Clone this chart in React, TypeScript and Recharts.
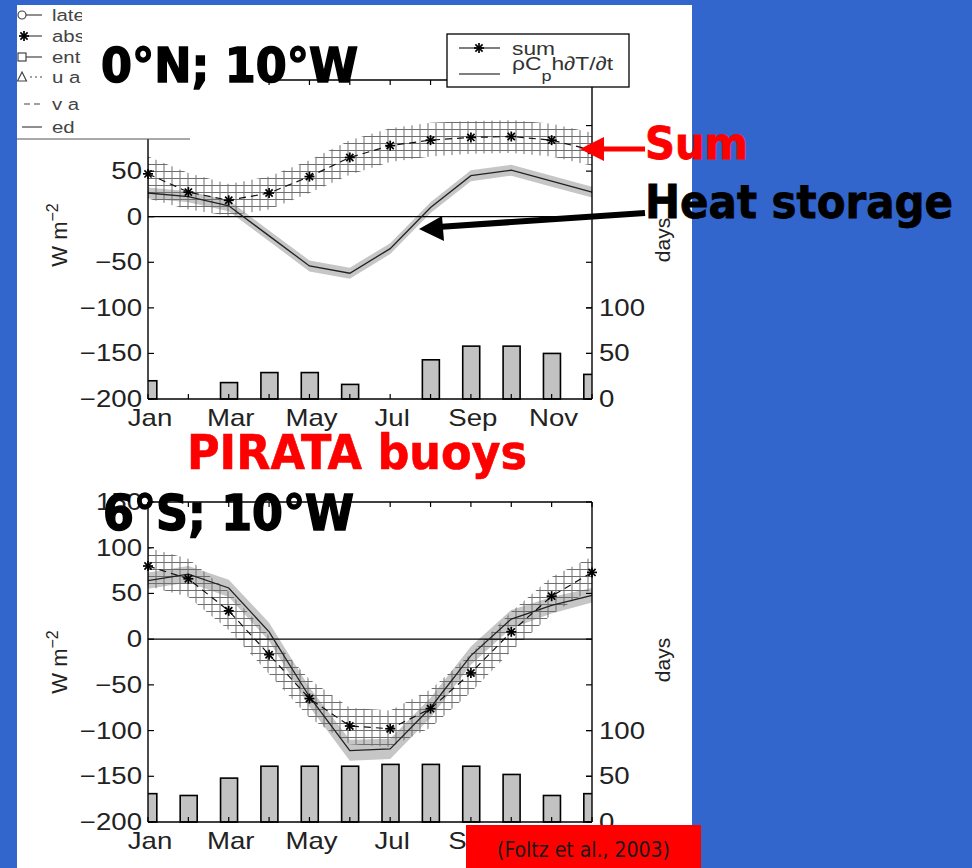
import { ComposedChart, Bar, Line, Area, XAxis, YAxis, ReferenceLine } from "recharts"

// months on the x axis (index = position)
const months = ["Jan", "Feb", "Mar", "Apr", "May", "Jun", "Jul", "Aug", "Sep", "Oct", "Nov", "Dec"]
const monthTicks = [0, 1, 2, 3, 4, 5, 6, 7, 8, 9, 10, 11]
const monthLabels = ["Jan", "", "Mar", "", "May", "", "Jul", "", "Sep", "", "Nov", ""]
const wTicks = [-200, -150, -100, -50, 0, 50, 100, 150]
const dayTicks = [0, 50, 100]

// 0°N; 10°W
const sumN = [47, 27, 18, 26, 44, 65, 78, 84, 87, 88, 84, 73]
const sumNLow = [20, 8, 1, 8, 26, 46, 60, 66, 69, 70, 66, 56]
const sumNHigh = [66, 48, 36, 44, 62, 84, 97, 103, 105, 106, 102, 92]
const heatN = [26, 22, 12, -21, -54, -62, -35, 10, 45, 51, 39, 27]
const heatNLow = [20, 16, 6, -27, -60, -68, -41, 4, 39, 45, 33, 21]
const heatNHigh = [32, 28, 18, -15, -48, -56, -29, 16, 51, 57, 45, 33]
const daysN = [20, null, 18, 29, 29, 16, null, 43, 58, 58, 50, 27]

// 6°S; 10°W
const sumS = [80, 66, 31, -17, -65, -95, -98, -76, -37, 8, 47, 73]
const sumSLow = [58, 46, 10, -38, -86, -115, -118, -97, -58, -13, 27, 55]
const sumSHigh = [100, 88, 52, 4, -44, -75, -78, -55, -16, 30, 68, 90]
const heatS = [64, 71, 56, 8, -63, -122, -120, -75, -18, 22, 37, 48]
const heatSLow = [55, 62, 46, -2, -74, -133, -131, -86, -28, 12, 28, 40]
const heatSHigh = [73, 80, 65, 18, -53, -110, -109, -64, -8, 32, 46, 56]
const daysS = [31, 29, 48, 61, 61, 61, 63, 63, 61, 52, 29, 31]

const build = (sum, lo, hi, heat, hlo, hhi, days) =>
  months.map((m, i) => ({
    i,
    m,
    sum: sum[i],
    sumBand: [lo[i], hi[i]],
    heat: heat[i],
    heatBand: [hlo[i], hhi[i]],
    days: days[i],
  }))

const dataN = build(sumN, sumNLow, sumNHigh, heatN, heatNLow, heatNHigh, daysN)
const dataS = build(sumS, sumSLow, sumSHigh, heatS, heatSLow, heatSHigh, daysS)

const PLOT_W = 444
const LAB = "'Liberation Sans', Arial, sans-serif"
const BOLD = "'DejaVu Sans Condensed', 'DejaVu Sans', sans-serif"

function SText({ x, y, anchor = "start", size = 23, children, fill = "#222" }) {
  return (
    <text
      transform={`translate(${x},${y}) scale(1.2,1)`}
      textAnchor={anchor}
      fontSize={size}
      fontFamily={LAB}
      fill={fill}
    >
      {children}
    </text>
  )
}

// labels that sit under the slide's boxes are left out
function BottomTick(props) {
  const { x, y, payload, skip = [] } = props
  const label = skip.includes(payload.value) ? "" : monthLabels[payload.value]
  return (
    <g>
      <line x1={x} y1={y} x2={x} y2={y - 5} stroke="#000" strokeWidth={1.2} />
      {label ? <SText x={x + 2} y={y + 27} anchor="middle">{label}</SText> : null}
    </g>
  )
}

function TopTick(props) {
  const { x, y } = props
  return <line x1={x} y1={y} x2={x} y2={y + 5} stroke="#000" strokeWidth={1.2} />
}

function LeftTick(props) {
  const { x, y, payload, skip = [] } = props
  const txt = String(payload.value).replace("-", "\u2212")
  return (
    <g>
      <line x1={x} y1={y} x2={x + 6} y2={y} stroke="#000" strokeWidth={1.2} />
      <line x1={x + PLOT_W} y1={y} x2={x + PLOT_W - 6} y2={y} stroke="#000" strokeWidth={1.2} />
      {skip.includes(payload.value) ? null : <SText x={x - 6} y={y + 8} anchor="end">{txt}</SText>}
    </g>
  )
}

function RightTick(props) {
  const { x, y, payload } = props
  return (
    <g>
      <line x1={x} y1={y} x2={x - 6} y2={y} stroke="#000" strokeWidth={1.2} />
      <SText x={x + 7} y={y + 8}>{payload.value}</SText>
    </g>
  )
}

function Asterisk(props) {
  const { cx, cy } = props
  if (cx == null || cy == null) return null
  const r = 5
  const d = 3.6
  return (
    <g stroke="#000" strokeWidth={1.7}>
      <line x1={cx - r} y1={cy} x2={cx + r} y2={cy} />
      <line x1={cx} y1={cy - r} x2={cx} y2={cy + r} />
      <line x1={cx - d} y1={cy - d} x2={cx + d} y2={cy + d} />
      <line x1={cx - d} y1={cy + d} x2={cx + d} y2={cy - d} />
    </g>
  )
}

function BarShape(props) {
  const { x, y, width, height } = props
  if (!height || height < 0.5) return <g />
  return <rect x={x} y={y} width={width} height={height} fill="#c2c2c2" stroke="#000" strokeWidth={1.6} />
}

function Panel({ data, top, height, marginTop, marginBottom, hatchId, skipW, skipMonths }) {
  const axisLine = { stroke: "#000", strokeWidth: 1.4 }
  return (
    <div style={{ position: "absolute", left: 0, top }}>
      <ComposedChart
        width={972}
        height={height}
        data={data}
        margin={{ top: marginTop, left: 48, right: 300, bottom: marginBottom }}
      >
        <defs>
          <pattern id={hatchId} width={8} height={7} patternUnits="userSpaceOnUse">
            <path d="M0 3.5H8M4 0V7" stroke="#6e6e6e" strokeWidth={1} />
          </pattern>
        </defs>
        <XAxis
          xAxisId="bars"
          dataKey="i"
          type="number"
          domain={[0, 11]}
          ticks={monthTicks}
          interval={0}
          allowDataOverflow
          tick={<BottomTick skip={skipMonths} />}
          tickLine={false}
          tickSize={0}
          tickMargin={0}
          height={30}
          axisLine={axisLine}
        />
        <XAxis
          xAxisId="top"
          orientation="top"
          dataKey="i"
          type="number"
          domain={[0, 11]}
          ticks={monthTicks}
          interval={0}
          tick={<TopTick />}
          tickLine={false}
          tickSize={0}
          tickMargin={0}
          height={10}
          axisLine={axisLine}
        />
        <XAxis xAxisId="pts" dataKey="i" type="number" domain={[0, 11]} hide />
        <YAxis
          yAxisId="w"
          domain={[-200, 150]}
          ticks={wTicks}
          interval={0}
          tick={<LeftTick skip={skipW} />}
          tickLine={false}
          tickSize={0}
          tickMargin={0}
          width={100}
          axisLine={axisLine}
        />
        <YAxis
          yAxisId="days"
          orientation="right"
          domain={[0, 350]}
          ticks={dayTicks}
          interval={0}
          tick={<RightTick />}
          tickLine={false}
          tickSize={0}
          tickMargin={0}
          width={80}
          axisLine={axisLine}
        />
        <Bar
          xAxisId="bars"
          yAxisId="days"
          dataKey="days"
          barSize={17}
          shape={<BarShape />}
          isAnimationActive={false}
        />
        <Area
          xAxisId="pts"
          yAxisId="w"
          dataKey="heatBand"
          type="linear"
          fill="#c6c6c6"
          fillOpacity={1}
          stroke="none"
          isAnimationActive={false}
        />
        <Area
          xAxisId="pts"
          yAxisId="w"
          dataKey="sumBand"
          type="linear"
          fill={`url(#${hatchId})`}
          fillOpacity={1}
          stroke="none"
          isAnimationActive={false}
        />
        <ReferenceLine xAxisId="pts" yAxisId="w" y={0} stroke="#000" strokeWidth={1.3} />
        <Line
          xAxisId="pts"
          yAxisId="w"
          dataKey="heat"
          type="linear"
          stroke="#222"
          strokeWidth={1.3}
          dot={false}
          isAnimationActive={false}
        />
        <Line
          xAxisId="pts"
          yAxisId="w"
          dataKey="sum"
          type="linear"
          stroke="#111"
          strokeWidth={1.2}
          strokeDasharray="7 5"
          dot={<Asterisk />}
          isAnimationActive={false}
        />
      </ComposedChart>
    </div>
  )
}

function RotLabel({ x, y, children, size = 22 }) {
  return (
    <text
      transform={`rotate(-90 ${x} ${y})`}
      x={x}
      y={y}
      textAnchor="middle"
      fontSize={size}
      fontFamily={LAB}
      fill="#222"
    >
      {children}
    </text>
  )
}

// left legend of the original figure, cut off by the title box
const legendRows = [
  { y: 15, label: "late" },
  { y: 36, label: "abs" },
  { y: 57, label: "ent" },
  { y: 77, label: "u a" },
  { y: 104, label: "v a" },
  { y: 127, label: "ed" },
]

function Overlay() {
  return (
    <svg width={972} height={868} style={{ position: "absolute", left: 0, top: 0 }}>
      <defs>
        <clipPath id="legCut">
          <rect x={17} y={5} width={65} height={134} />
        </clipPath>
      </defs>
      <rect x={17} y={5} width={246} height={134} fill="#fff" />
      <g clipPath="url(#legCut)">
        {legendRows.map((r, k) => (
          <g key={r.label} stroke="#444" strokeWidth={1.2} fill="none">
            {k === 4 ? (
              <line x1={24} y1={r.y} x2={42} y2={r.y} strokeDasharray="6 4" />
            ) : (
              <line x1={k === 3 ? 30 : 22} y1={r.y} x2={42} y2={r.y} strokeDasharray={k === 3 ? "2 3" : undefined} />
            )}
            {k === 0 && <circle cx={22} cy={r.y} r={4} fill="#fff" />}
            {k === 1 && <Asterisk cx={24} cy={r.y} />}
            {k === 2 && <rect x={18} y={r.y - 4} width={8} height={8} fill="#fff" />}
            {k === 3 && <path d={`M22 ${r.y - 5}L26.5 ${r.y + 4}H17.5Z`} fill="#fff" />}
            <g stroke="none">
              <SText x={52} y={r.y + 6} size={17} fill="#444">{r.label}</SText>
            </g>
          </g>
        ))}
      </g>
      <line x1={17} y1={139} x2={190} y2={139} stroke="#555" strokeWidth={1.2} />
      <rect x={82} y={5} width={181} height={133} fill="#fff" />
      <text x={101} y={82} fontSize={48} fontWeight="bold" fontFamily={BOLD} textLength={257} lengthAdjust="spacingAndGlyphs" fill="#000" stroke="#000" strokeWidth={1.4}>
        0°N; 10°W
      </text>

      {/* sum legend */}
      <rect x={447} y={34} width={182} height={53} fill="#fff" stroke="#000" strokeWidth={1.3} />
      <line x1={459} y1={48} x2={500} y2={48} stroke="#000" strokeWidth={1.2} />
      <Asterisk cx={479} cy={48} />
      <SText x={512} y={55} size={19} fill="#333">sum</SText>
      <line x1={459} y1={74} x2={500} y2={74} stroke="#000" strokeWidth={1.2} />
      <text transform="translate(512,70) scale(1.2,1)" fontSize={19} fontFamily={LAB} fill="#333">
        ρC<tspan dy={11} fontSize={15}>p</tspan><tspan dy={-11}>h∂T/∂t</tspan>
      </text>

      {/* axis titles */}
      <RotLabel x={67} y={235}>
        W m<tspan dy={-9} fontSize={16}>−2</tspan>
      </RotLabel>
      <RotLabel x={67} y={662}>
        W m<tspan dy={-9} fontSize={16}>−2</tspan>
      </RotLabel>
      <RotLabel x={670} y={240} size={21}>days</RotLabel>
      <RotLabel x={670} y={660} size={21}>days</RotLabel>

      {/* annotations */}
      <text x={645} y={159} fontSize={44} fontWeight="bold" fontFamily={BOLD} textLength={103} lengthAdjust="spacingAndGlyphs" fill="#ff0000" stroke="#ff0000" strokeWidth={0.8}>
        Sum
      </text>
      <line x1={600} y1={149} x2={645} y2={149} stroke="#ff0000" strokeWidth={5} />
      <path d="M580 149L604 137V161Z" fill="#ff0000" />
      <text x={645} y={218} fontSize={47} fontWeight="bold" fontFamily={BOLD} textLength={308} lengthAdjust="spacingAndGlyphs" fill="#000" stroke="#000" strokeWidth={0.8}>
        Heat storage
      </text>
      <line x1={438} y1={227} x2={645} y2={213} stroke="#000" strokeWidth={6} />
      <path d="M419 229L442 216L444 241Z" fill="#000" />
      <text x={187} y={469} fontSize={48} fontWeight="bold" fontFamily={BOLD} textLength={340} lengthAdjust="spacingAndGlyphs" fill="#ff0000" stroke="#ff0000" strokeWidth={0.6}>
        PIRATA buoys
      </text>
      <text x={103} y={530} fontSize={50} fontWeight="bold" fontFamily={BOLD} textLength={251} lengthAdjust="spacingAndGlyphs" fill="#000" stroke="#000" strokeWidth={1.4}>
        6°S; 10°W
      </text>

      <rect x={466} y={825} width={235} height={43} fill="#ff0000" />
      <text x={497} y={857} fontSize={21} fontFamily={BOLD} textLength={173} lengthAdjust="spacingAndGlyphs" fill="#1a1a1a">
        (Foltz et al., 2003)
      </text>
    </svg>
  )
}

export default function App() {
  return (
    <div
      style={{
        position: "absolute",
        left: 0,
        top: 0,
        width: 972,
        height: 868,
        background: "#3366cc",
        overflow: "hidden",
      }}
    >
      <div style={{ position: "absolute", left: 17, top: 5, width: 675, height: 863, background: "#fff" }} />
      <Panel data={dataN} top={0} height={440} marginTop={70} marginBottom={11} hatchId="hatchN" skipW={[100, 150]} skipMonths={[]} />
      <Panel data={dataS} top={440} height={428} marginTop={52} marginBottom={16} hatchId="hatchS" skipW={[]} skipMonths={[10]} />
      <Overlay />
    </div>
  )
}
